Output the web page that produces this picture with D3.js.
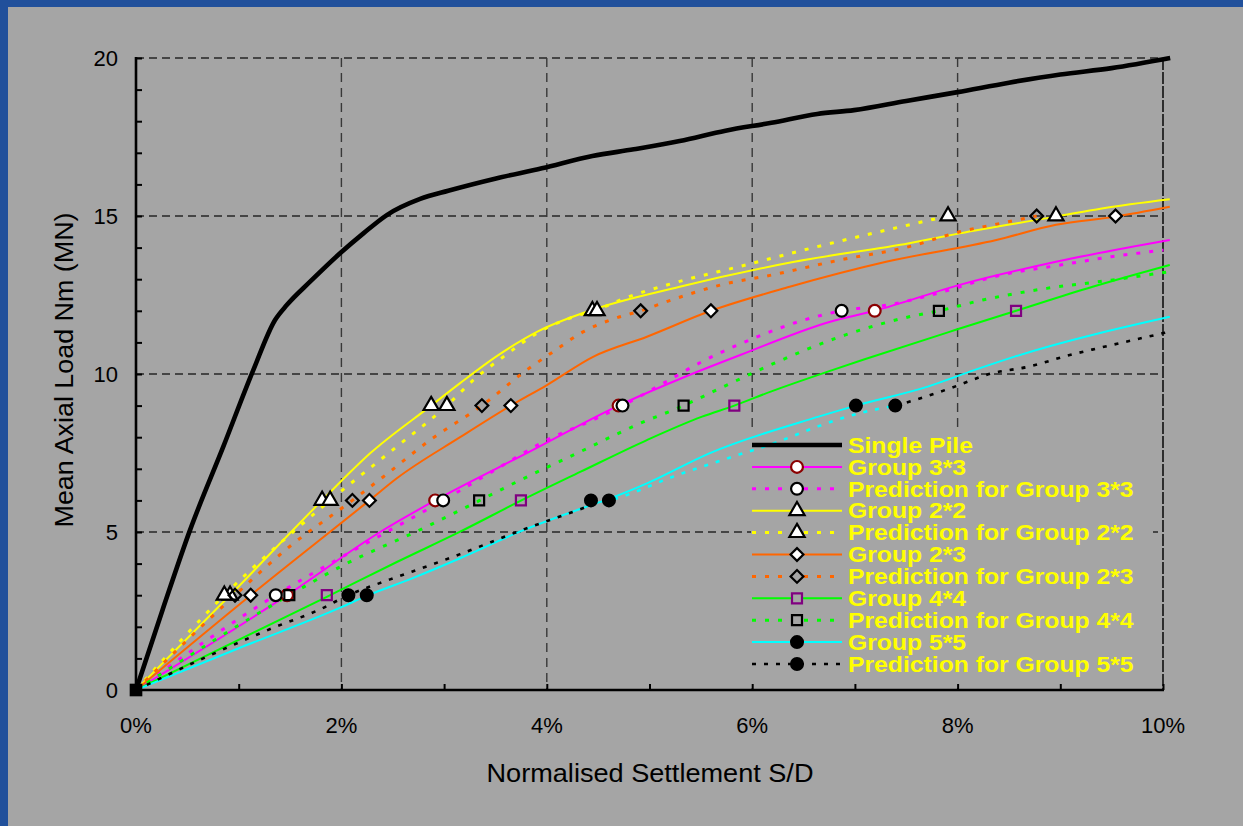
<!DOCTYPE html>
<html>
<head>
<meta charset="utf-8">
<script src="https://cdn.jsdelivr.net/npm/d3@7/dist/d3.min.js"></script>
<style>
  html, body { margin: 0; padding: 0; background: #21509b; }
  svg { display: block; }
  text { font-family: "Liberation Sans", Arial, sans-serif; }
</style>
</head>
<body>
<svg id="chart" width="1243" height="826"></svg>
<script>
// Axis ticks
const xTicks = [0, 2, 4, 6, 8, 10];
const yTicks = [0, 5, 10, 15, 20];

// Load-settlement curves: [settlement S/D (%), mean axial load (MN)]
const singlePile = [[0,0],[0.26,2.55],[0.526,5.06],[0.85,7.7],[1.143,10.13],[1.354,11.71],[1.468,12.18],[1.695,12.92],[1.987,13.82],[2.214,14.45],[2.442,15.03],[2.767,15.54],[3.04,15.8],[3.506,16.19],[3.952,16.51],[4.444,16.9],[4.847,17.11],[5.294,17.37],[5.74,17.7],[6.187,17.95],[6.634,18.23],[6.992,18.35],[7.5,18.64],[8.0,18.92],[8.5,19.22],[9.0,19.48],[9.5,19.68],[10.07,20.0]];

const group33 = [[0,0],[1.471,3.0],[2.377,5.0],[2.913,6.0],[3.838,7.55],[4.699,9.0],[5.3,9.85],[5.884,10.6],[6.768,11.66],[7.193,12.0],[8.02,12.82],[8.958,13.55],[10.066,14.24]];
const group33Markers = [[1.471,3],[2.913,6],[4.699,9],[7.193,12]];

const pred33 = [[0,0],[1.361,3.0],[2.053,4.3],[2.442,5.0],[2.991,6.0],[3.514,7.0],[4.001,7.91],[4.488,8.6],[4.737,9.0],[5.137,9.71],[5.517,10.4],[6.053,11.18],[6.455,11.66],[6.871,12.0],[7.349,12.2],[7.796,12.55],[8.422,13.13],[9.003,13.45],[9.494,13.71],[10.005,13.92]];
const pred33Markers = [[1.361,3],[2.991,6],[4.737,9],[6.871,12]];

const group22 = [[0,0],[0.916,3.0],[1.812,6.0],[2.28,7.49],[2.874,9.0],[3.156,9.71],[3.506,10.55],[3.909,11.34],[4.444,12.03],[5.294,12.76],[6.41,13.55],[7.528,14.14],[8.02,14.45],[8.958,14.98],[9.405,15.24],[10.066,15.53]];
const group22Markers = [[0.916,3],[1.812,6],[2.874,9],[4.444,12],[8.958,15]];

const pred22 = [[0,0],[0.86,3.0],[1.89,6.0],[2.5,7.6],[3.027,9.0],[3.3,9.85],[3.6,10.6],[3.903,11.29],[4.26,11.81],[4.489,12.03],[4.712,12.34],[5.249,12.89],[5.874,13.4],[6.634,14.03],[7.17,14.45],[7.907,15.0]];
const pred22Markers = [[0.86,3],[1.89,6],[3.027,9],[4.489,12],[7.907,15]];

const group23 = [[0,0],[1.117,3.0],[2.273,6.0],[2.54,6.7],[3.156,8.0],[3.65,9.0],[4.001,9.65],[4.455,10.55],[4.975,11.18],[5.598,12.0],[6.365,12.76],[7.304,13.55],[8.377,14.24],[8.958,14.72],[9.538,14.98],[10.066,15.29]];
const group23Markers = [[1.117,3],[2.273,6],[3.65,9],[5.598,12],[9.538,15]];

const pred23 = [[0,0],[0.964,3.0],[1.5,4.55],[2.107,6.0],[2.409,6.75],[2.864,7.91],[3.368,9.0],[3.806,10.13],[4.065,10.71],[4.358,11.34],[4.618,11.71],[4.914,12.0],[5.212,12.34],[5.695,12.82],[6.187,13.13],[6.857,13.61],[7.528,14.03],[8.02,14.5],[8.422,14.77],[8.77,15.0]];
const pred23Markers = [[0.964,3],[2.107,6],[3.368,9],[4.914,12],[8.77,15]];

const group44 = [[0,0],[1.858,2.95],[2.54,4.05],[3.156,5.01],[3.748,5.99],[4.325,6.9],[4.975,7.91],[5.512,8.65],[5.826,9.0],[6.187,9.45],[6.787,10.13],[7.08,10.45],[7.975,11.39],[8.569,12.0],[9.315,12.76],[10.066,13.45]];
const group44Markers = [[1.858,3],[3.748,6],[5.826,9],[8.569,12]];

const pred44 = [[0,0],[1.493,3.0],[2.019,3.95],[2.799,5.12],[3.341,5.99],[3.709,6.59],[4.325,7.54],[4.91,8.44],[5.332,9.0],[5.721,9.6],[6.187,10.3],[6.902,11.23],[7.528,11.81],[7.818,12.0],[8.243,12.34],[8.868,12.71],[9.494,12.97],[10.066,13.24]];
const pred44Markers = [[1.493,3],[3.341,6],[5.332,9],[7.818,12]];

const group55 = [[0,0],[1.0,1.32],[2.0,2.62],[2.247,2.98],[2.701,3.55],[3.156,4.17],[3.773,5.06],[4.43,5.85],[4.605,6.05],[4.975,6.54],[5.583,7.49],[6.646,8.65],[7.01,9.0],[7.709,9.6],[8.168,10.13],[8.555,10.55],[10.066,11.81]];
const group55Markers = [[2.247,3],[4.605,6],[7.01,9]];

const pred55 = [[0,0],[0.62,0.95],[1.33,1.96],[1.79,2.55],[2.068,3.0],[2.474,3.5],[2.864,3.95],[3.156,4.3],[3.806,5.12],[4.065,5.42],[4.325,5.72],[4.43,5.85],[4.733,6.12],[5.228,6.75],[5.76,7.33],[6.256,7.86],[6.646,8.35],[7.0,8.72],[7.393,9.0],[7.567,9.16],[7.93,9.55],[8.332,10.02],[8.69,10.23],[9.092,10.6],[9.36,10.81],[9.718,11.08],[10.066,11.34]];
const pred55Markers = [[2.068,3],[4.43,6],[7.393,9]];
// stretch of the 5*5 prediction drawn in cyan
const pred55CyanSpan = [4.43, 7.393];

const originMarker = [[0, 0]];

const legendLabels = ["Single Pile", "Group 3*3", "Prediction for Group 3*3", "Group 2*2", "Prediction for Group 2*2", "Group 2*3", "Prediction for Group 2*3", "Group 4*4", "Prediction for Group 4*4", "Group 5*5", "Prediction for Group 5*5"];

// ---------------------------------------------------------------
const svg = d3.select("#chart");
const W = 1243, H = 826;
const plot = { left: 136, right: 1163, top: 58, bottom: 690 };

const x = d3.scaleLinear().domain([0, 10]).range([plot.left, plot.right]);
const y = d3.scaleLinear().domain([0, 20]).range([plot.bottom, plot.top]);

// Background: blue slide with a grey panel
svg.append("rect").attr("width", W).attr("height", H).attr("fill", "#21509b");
svg.append("rect").attr("x", 8).attr("y", 7).attr("width", W - 8).attr("height", H - 7).attr("fill", "#a5a5a5");

// Grid lines
const grid = svg.append("g");
grid.selectAll("line.h").data(yTicks.filter(d => d > 0)).join("line")
  .attr("x1", plot.left).attr("x2", plot.right)
  .attr("y1", d => y(d)).attr("y2", d => y(d))
  .attr("stroke", "#262626").attr("stroke-width", 1.3).attr("stroke-dasharray", "8,5");
grid.selectAll("line.v").data(xTicks.filter(d => d > 0 && d < 10)).join("line")
  .attr("x1", d => x(d)).attr("x2", d => x(d))
  .attr("y1", plot.top).attr("y2", plot.bottom)
  .attr("stroke", "#383838").attr("stroke-width", 1.4).attr("stroke-dasharray", "9,6");
grid.append("line")
  .attr("x1", x(10)).attr("x2", x(10)).attr("y1", plot.top).attr("y2", plot.bottom)
  .attr("stroke", "#111").attr("stroke-width", 1.6).attr("stroke-dasharray", "12,2");

// Axes: inward minor ticks every unit / every 1 %
const yAxis = d3.axisRight(y).tickValues(d3.range(0, 21, 1)).tickSize(6).tickFormat("");
svg.append("g").attr("transform", `translate(${plot.left},0)`).call(yAxis)
  .call(g => g.select(".domain").remove())
  .call(g => g.selectAll("line").attr("stroke", "#000").attr("stroke-width", 2));
const xAxis = d3.axisTop(x).tickValues(d3.range(0, 11, 1)).tickSize(6).tickFormat("");
svg.append("g").attr("transform", `translate(0,${plot.bottom})`).call(xAxis)
  .call(g => g.select(".domain").remove())
  .call(g => g.selectAll("line").attr("stroke", "#000").attr("stroke-width", 2));

svg.append("line").attr("x1", plot.left).attr("x2", plot.left)
  .attr("y1", plot.top - 1).attr("y2", plot.bottom + 1)
  .attr("stroke", "#000").attr("stroke-width", 2.6);
svg.append("line").attr("x1", plot.left - 1).attr("x2", plot.right + 1)
  .attr("y1", plot.bottom).attr("y2", plot.bottom)
  .attr("stroke", "#000").attr("stroke-width", 2.6);

// Tick labels
svg.append("g").selectAll("text").data(yTicks).join("text")
  .attr("x", 118).attr("y", d => y(d)).attr("dy", "0.35em")
  .attr("text-anchor", "end").attr("font-size", 22).attr("fill", "#000")
  .text(d => d);
svg.append("g").selectAll("text").data(xTicks).join("text")
  .attr("x", d => x(d)).attr("y", 733)
  .attr("text-anchor", "middle").attr("font-size", 22).attr("fill", "#000")
  .text(d => d + "%");

// Axis titles
svg.append("text").attr("x", 650).attr("y", 782).attr("text-anchor", "middle")
  .attr("font-size", 25).attr("textLength", 327).attr("lengthAdjust", "spacingAndGlyphs")
  .attr("fill", "#000").text("Normalised Settlement S/D");
svg.append("text").attr("transform", "translate(73,370) rotate(-90)").attr("text-anchor", "middle")
  .attr("font-size", 25).attr("textLength", 315).attr("lengthAdjust", "spacingAndGlyphs")
  .attr("fill", "#000").text("Mean Axial Load Nm (MN)");

// Legend panel (hides the grid behind it)
const legend = { x: 751, y: 433, w: 402, h: 251, row0: 445, rowStep: 21.9, lineX1: 752, lineX2: 842, markX: 797, textX: 848 };
svg.append("rect").attr("x", legend.x).attr("y", legend.y).attr("width", legend.w).attr("height", legend.h)
  .attr("fill", "#a5a5a5");

// Marker shapes
const markerTypes = {
  circle: d3.symbolCircle, triangle: d3.symbolTriangle, diamond: d3.symbolSquare, square: d3.symbolSquare
};
const markerSizes = { circle: 110, triangle: 100, diamond: 82, square: 100 };
const markerRotation = { circle: 0, triangle: 0, diamond: 45, square: 0 };

const series = [
  { line: singlePile, markers: [], color: "#000", width: 4.6, dash: null },
  { line: group33, markers: group33Markers, color: "#ff00ff", width: 2, dash: null, shape: "circle", fill: "#fff", stroke: "#8b0000" },
  { line: pred33, markers: pred33Markers, color: "#ff00ff", width: 3, dash: "4,9", shape: "circle", fill: "#fff", stroke: "#000" },
  { line: group22, markers: group22Markers, color: "#ffff00", width: 2, dash: null, shape: "triangle", fill: "#fff", stroke: "#000" },
  { line: pred22, markers: pred22Markers, color: "#ffff00", width: 3, dash: "4,9", shape: "triangle", fill: "#fff", stroke: "#000" },
  { line: group23, markers: group23Markers, color: "#ff6600", width: 2, dash: null, shape: "diamond", fill: "#fff", stroke: "#000" },
  { line: pred23, markers: pred23Markers, color: "#ff6600", width: 3, dash: "4,9", shape: "diamond", fill: "none", stroke: "#000" },
  { line: group44, markers: group44Markers, color: "#00ff00", width: 2, dash: null, shape: "square", fill: "none", stroke: "#800080" },
  { line: pred44, markers: pred44Markers, color: "#00ff00", width: 3, dash: "4,9", shape: "square", fill: "none", stroke: "#000" },
  { line: group55, markers: group55Markers, color: "#00ffff", width: 2, dash: null, shape: "circle", fill: "#000", stroke: "#000" },
  { line: pred55, markers: pred55Markers, color: "#000", width: 2.6, dash: "4,8", shape: "circle", fill: "#000", stroke: "#000" }
];

const lineGen = d3.line().x(d => x(d[0])).y(d => y(d[1])).curve(d3.curveMonotoneX);
const symbolPath = shape => d3.symbol().type(markerTypes[shape]).size(markerSizes[shape])();

const linesG = svg.append("g").attr("fill", "none");
const marksG = svg.append("g");

series.forEach(s => {
  if (s.line === pred55) {
    // drawn in three stretches: black, cyan, black
    const [a, b] = pred55CyanSpan;
    const parts = [
      { pts: pred55.filter(d => d[0] <= a), color: "#000" },
      { pts: pred55.filter(d => d[0] >= a && d[0] <= b), color: "#00ffff" },
      { pts: pred55.filter(d => d[0] >= b), color: "#000" }
    ];
    parts.forEach(p => {
      linesG.append("path").datum(p.pts).attr("d", lineGen)
        .attr("stroke", p.color).attr("stroke-width", s.width).attr("stroke-dasharray", s.dash);
    });
  } else {
    linesG.append("path").datum(s.line).attr("d", lineGen)
      .attr("stroke", s.color).attr("stroke-width", s.width)
      .attr("stroke-dasharray", s.dash)
      .attr("stroke-linejoin", "round");
  }
});

series.forEach(s => {
  if (!s.shape) return;
  marksG.append("g").selectAll("path").data(s.markers).join("path")
    .attr("transform", d => `translate(${x(d[0])},${y(d[1])}) rotate(${markerRotation[s.shape]})`)
    .attr("d", symbolPath(s.shape))
    .attr("fill", s.fill).attr("stroke", s.stroke).attr("stroke-width", 2.2);
});

// marker at the origin
marksG.selectAll("path.origin").data(originMarker).join("path")
  .attr("transform", d => `translate(${x(d[0])},${y(d[1])})`)
  .attr("d", d3.symbol().type(d3.symbolSquare).size(160)())
  .attr("fill", "#000");

// Legend rows
const lg = svg.append("g");
series.forEach((s, i) => {
  const ry = legend.row0 + i * legend.rowStep;
  lg.append("line").attr("x1", legend.lineX1).attr("x2", legend.lineX2)
    .attr("y1", ry).attr("y2", ry)
    .attr("stroke", s.color).attr("stroke-width", s.width).attr("stroke-dasharray", s.dash);
  if (s.shape) {
    lg.append("path").attr("transform", `translate(${legend.markX},${ry}) rotate(${markerRotation[s.shape]})`)
      .attr("d", symbolPath(s.shape))
      .attr("fill", s.fill === "none" ? "#a5a5a5" : s.fill).attr("stroke", s.stroke).attr("stroke-width", 2.2);
  }
  lg.append("text").attr("transform", `translate(${legend.textX},${ry}) scale(1.15,1)`)
    .attr("dy", "0.36em").attr("font-size", 21.5).attr("font-weight", "bold").attr("fill", "#ffff00")
    .text(legendLabels[i]);
});
</script>
</body>
</html>
